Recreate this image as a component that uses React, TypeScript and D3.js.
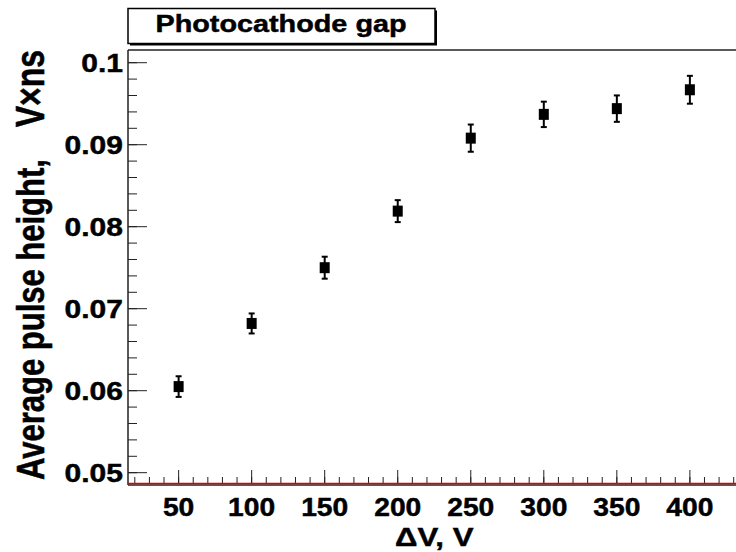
import React from 'react';
import * as d3 from 'd3';

const titleText = 'Photocathode gap';
const xTitle = 'ΔV, V';
const yTitleMain = 'Average pulse height,';
const yTitleUnit = 'V×ns';
const xTickValues = [50, 100, 150, 200, 250, 300, 350, 400];
const yTickValues = [0.05, 0.06, 0.07, 0.08, 0.09, 0.1];
const yTickLabels = ['0.05', '0.06', '0.07', '0.08', '0.09', '0.1'];
const pointX = [50, 100, 150, 200, 250, 300, 350, 400];
const pointY = [0.0605, 0.0682, 0.075, 0.0819, 0.0908, 0.0937, 0.0944, 0.0967];
const pointErr = [0.00126, 0.00122, 0.00134, 0.00134, 0.00166, 0.00155, 0.00161, 0.0017];

const W = 736;
const H = 552;
const L = 128;
const R = 741;
const T = 50;
const B = 484;
const FONT = '"Liberation Sans", Arial, Helvetica, sans-serif';

export default function App() {
  const x = d3.scaleLinear().domain([15, 435]).range([L - 0.5, R]);
  const y = d3.scaleLinear().domain([0.04862, 0.10155]).range([B, T]);
  const xMinor = d3.range(20, 440, 10).filter((v) => x(v) >= L && x(v) <= R);
  const yMinor = d3
    .range(0.048, 0.1018, 0.002)
    .filter((v) => y(v) <= B - 0.5 && y(v) >= T + 0.5);
  const axisColor = '#222';
  const textProps = { fill: '#000', stroke: '#000', strokeWidth: 0.45 };

  return (
    <svg
      width={W}
      height={H}
      style={{ position: 'absolute', left: 0, top: 0, background: '#fff' }}
      fontFamily={FONT}
      fontWeight="bold"
    >
      <rect x={0} y={0} width={W} height={H} fill="#fff" />
      {/* frame */}
      <line x1={L} x2={R} y1={T} y2={T} stroke={axisColor} strokeWidth={1.5} />
      <line x1={L} x2={L} y1={T} y2={B + 1} stroke={axisColor} strokeWidth={1.5} />
      <line x1={L} x2={R} y1={B + 1} y2={B + 1} stroke={axisColor} strokeWidth={1.5} />
      {/* y ticks */}
      {yMinor.map((v, i) => (
        <line key={'ym' + i} x1={L} x2={L + 9} y1={y(v)} y2={y(v)} stroke={axisColor} strokeWidth={1} />
      ))}
      {yTickValues.map((v, i) => (
        <line key={'yM' + i} x1={L} x2={L + 19} y1={y(v)} y2={y(v)} stroke={axisColor} strokeWidth={1} />
      ))}
      {yTickValues.map((v, i) => (
        <g key={'yl' + i} transform={`translate(${L - 5},${y(v) + 9}) scale(1.2,1)`}>
          <text textAnchor="end" fontSize={25} {...textProps}>
            {yTickLabels[i]}
          </text>
        </g>
      ))}
      {/* x ticks */}
      {xMinor.map((v, i) => (
        <line key={'xm' + i} x1={x(v)} x2={x(v)} y1={B} y2={B - 7} stroke={axisColor} strokeWidth={1} />
      ))}
      {xTickValues.map((v, i) => (
        <line key={'xM' + i} x1={x(v)} x2={x(v)} y1={B} y2={B - 14} stroke={axisColor} strokeWidth={1} />
      ))}
      {xTickValues.map((v, i) => (
        <g key={'xl' + i} transform={`translate(${x(v)},516) scale(1.13,1)`}>
          <text textAnchor="middle" fontSize={25} {...textProps}>
            {String(v)}
          </text>
        </g>
      ))}
      {/* red line */}
      <line x1={L} x2={R} y1={B - 0.5} y2={B - 0.5} stroke="#e00000" strokeWidth={1.5} />
      {/* axis titles */}
      <g transform={`translate(${x(225)},546) scale(1.2,1)`}>
        <text textAnchor="middle" fontSize={26} {...textProps}>
          {xTitle}
        </text>
      </g>
      <g transform="translate(44,480) scale(1.25,1) rotate(-90)">
        <text textAnchor="start" fontSize={31} {...textProps}>
          {yTitleMain}
        </text>
      </g>
      <g transform="translate(44,50) scale(1.25,1) rotate(-90)">
        <text textAnchor="end" fontSize={32} {...textProps}>
          {yTitleUnit}
        </text>
      </g>
      {/* data */}
      {pointX.map((px, i) => {
        const cx = x(px);
        const cy = y(pointY[i]);
        const y1 = y(pointY[i] + pointErr[i]);
        const y2 = y(pointY[i] - pointErr[i]);
        return (
          <g key={'p' + i}>
            <line x1={cx} x2={cx} y1={y1} y2={y2} stroke="#000" strokeWidth={2} />
            <line x1={cx - 3} x2={cx + 3} y1={y1} y2={y1} stroke="#000" strokeWidth={2} />
            <line x1={cx - 3} x2={cx + 3} y1={y2} y2={y2} stroke="#000" strokeWidth={2} />
            <rect x={cx - 5} y={cy - 5.5} width={10} height={11} fill="#000" />
          </g>
        );
      })}
      {/* title box */}
      <rect x={130} y={10.5} width={307} height={35} fill="#000" />
      <rect x={128} y={8.5} width={307} height={35} fill="#fff" stroke="#000" strokeWidth={1.5} />
      <g transform="translate(281,31.7) scale(1.2,1)">
        <text textAnchor="middle" fontSize={24} {...textProps}>
          {titleText}
        </text>
      </g>
    </svg>
  );
}
